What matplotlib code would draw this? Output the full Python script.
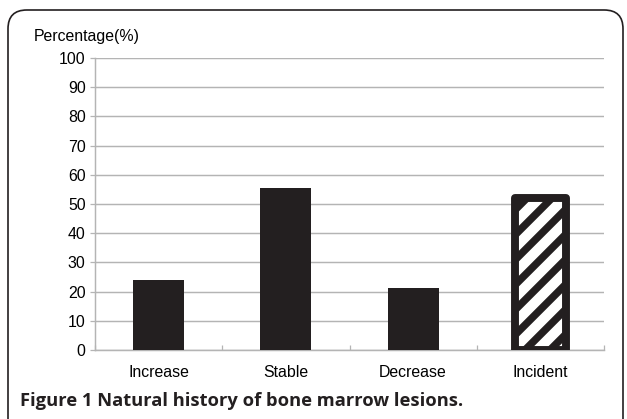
import numpy as np
import matplotlib
matplotlib.use("Agg")
import matplotlib.pyplot as plt
from matplotlib.patches import FancyBboxPatch

# values
categories = ["Increase", "Stable", "Decrease", "Incident"]
percentages = [24, 55.5, 21.2, 52]
yticks = [0, 10, 20, 30, 40, 50, 60, 70, 80, 90, 100]

dark = "#231f20"
grid_grey = "#b4b4b4"

plt.rcParams['font.family'] = ['Liberation Sans', 'DejaVu Sans']
plt.rcParams['hatch.linewidth'] = 3.6

DPI = 150
W, H = 627, 419
fig = plt.figure(figsize=(W / DPI, H / DPI), dpi=DPI)

# rounded frame around the figure (open towards the bottom)
frame = FancyBboxPatch((8 / W, -0.2), (W - 12) / W, 1.2 - 10 / H,
                       boxstyle="round,pad=0,rounding_size=0.03",
                       transform=fig.transFigure, fill=False,
                       edgecolor=dark, linewidth=0.8, mutation_aspect=W / H)
fig.patches.append(frame)

ax = fig.add_axes([95 / W, 1 - 350 / H, (604 - 95) / W, (350 - 58) / H])

x = np.arange(len(categories))
bars = ax.bar(x[:3], percentages[:3], width=0.4, color=dark, zorder=3)
inc = ax.bar(x[3], percentages[3], width=0.4, facecolor="white",
             edgecolor=dark, linewidth=3.8, hatch="//", zorder=3)
inc[0].set_joinstyle("round")

ax.set_xlim(-0.5, 3.5)
ax.set_ylim(0, 100)
ax.set_yticks(yticks)
ax.set_xticks(x)
ax.set_xticklabels(categories)
ax.set_xticks(np.arange(-0.5, 4, 1), minor=True)

ax.yaxis.grid(True, color=grid_grey, linewidth=0.7, zorder=0)
ax.set_axisbelow(True)
for s in ["top", "right"]:
    ax.spines[s].set_visible(False)
for s in ["left", "bottom"]:
    ax.spines[s].set_color(grid_grey)
    ax.spines[s].set_linewidth(0.7)

ax.tick_params(axis="y", length=2.5, width=0.6, color=grid_grey,
               labelsize=7.6, pad=2, labelcolor="black")
ax.tick_params(axis="x", which="major", length=0, labelsize=7.6, pad=7)
ax.tick_params(axis="x", which="minor", length=2.5, width=0.6,
               color=grid_grey, direction="in")

fig.text(34 / W, 1 - 36 / H, "Percentage(%)", fontsize=7.6, va="center",
         ha="left")
fig.text(20 / W, 1 - 401 / H, "Figure 1 Natural history of bone marrow lesions.",
         fontsize=8.8, fontweight="bold", va="center", ha="left",
         family=["Open Sans", "DejaVu Sans"], color=dark)

fig.savefig("out.png", dpi=DPI)
